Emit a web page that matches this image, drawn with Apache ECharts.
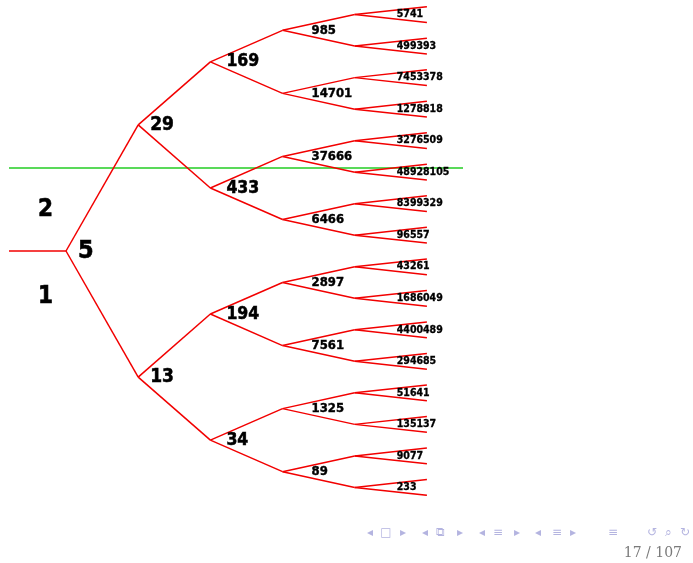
<!DOCTYPE html>
<html>
<head>
<meta charset="utf-8">
<script src="https://cdn.jsdelivr.net/npm/echarts@6/dist/echarts.min.js"></script>
<style>
html,body{margin:0;padding:0;background:#fff;}
#chart{width:693px;height:563px;}
</style>
</head>
<body>
<div id="chart"></div>
<script>
// ---- data ----
const rootValue = [5];
const level1 = [29, 13];
const level2 = [169, 433, 194, 34];
const level3 = [985, 14701, 37666, 6466, 2897, 7561, 1325, 89];
const level4 = [5741, 499393, 7453378, 1278818, 3276509, 48928105, 8399329, 96557,
                43261, 1686049, 4400489, 294685, 51641, 135137, 9077, 233];
const leafCount = 32;
const branchLabels = ['2', '1'];
const thresholdSlot = 10.2;
const pageLabel = '17 / 107';

// ---- build ----
const levels = [rootValue, level1, level2, level3, level4];
const maxDepth = 5;
const xMin = -0.79, xMax = 5.5;
function slot(d, i) { return (i + 0.5) * Math.pow(2, maxDepth - d) - 0.5; }

const edges = [];
edges.push({ coords: [[xMin, slot(0, 0)], [0, slot(0, 0)]] });
for (let d = 0; d < maxDepth; d++) {
  const n = d < levels.length ? levels[d].length : 0;
  for (let i = 0; i < n; i++) {
    for (let c = 0; c < 2; c++) {
      edges.push({ coords: [[d, slot(d, i)], [d + 1, slot(d + 1, 2 * i + c)]] });
    }
  }
}

const fontFamily = "'DejaVu Sans Condensed', 'DejaVu Sans', sans-serif";
const fontSizes = [25, 19, 17.5, 13, 10.5];
const distances = [12, 12, 16, 29, 42];
const borders = [0.6, 0.5, 0.5, 0.4, 0.3];

const labelSeries = levels.map((vals, d) => ({
  type: 'scatter',
  symbolSize: 0,
  silent: true,
  z: 5,
  data: vals.map((v, i) => ({ value: [d, slot(d, i)], name: String(v) })),
  label: {
    show: true,
    position: 'right',
    distance: distances[d],
    formatter: p => p.name,
    fontFamily: fontFamily,
    fontWeight: 'bold',
    fontSize: fontSizes[d],
    color: '#000',
    opacity: 1,
    textBorderColor: '#000',
    textBorderWidth: borders[d]
  }
}));

const sideSeries = {
  type: 'scatter',
  symbolSize: 0,
  silent: true,
  z: 5,
  data: [
    { value: [-0.284, slot(0, 0) - 2.6], name: branchLabels[0] },
    { value: [-0.284, slot(0, 0) + 2.88], name: branchLabels[1] }
  ],
  label: {
    show: true,
    position: [0, 0],
    align: 'center',
    verticalAlign: 'middle',
    formatter: p => p.name,
    fontFamily: fontFamily,
    fontWeight: 'bold',
    fontSize: 24,
    color: '#000',
    opacity: 1,
    textBorderColor: '#000',
    textBorderWidth: 0.6
  }
};

const thresholdSeries = {
  type: 'lines',
  coordinateSystem: 'cartesian2d',
  silent: true,
  z: 2,
  lineStyle: { color: '#22cc22', width: 1.5, opacity: 1 },
  data: [{ coords: [[xMin, thresholdSlot], [xMax, thresholdSlot]] }]
};

const navColor = '#b4b4e0';
const navItems = [
  ['\u25C2', 370], ['\u25A1', 386], ['\u25B8', 403],
  ['\u25C2', 425], ['\u29C9', 440], ['\u25B8', 460],
  ['\u25C2', 482], ['\u2261', 498], ['\u25B8', 517],
  ['\u25C2', 538], ['\u2261', 557], ['\u25B8', 573],
  ['\u2261', 613], ['\u21BA', 652], ['\u2315', 668], ['\u21BB', 685]
];
const graphics = navItems.map(([t, x]) => ({
  type: 'text',
  x: x, y: 533,
  style: { text: t, fill: navColor, font: "12px 'DejaVu Sans'", align: 'center', verticalAlign: 'middle' },
  silent: true
}));
graphics.push({
  type: 'text', x: 682, y: 553,
  style: { text: pageLabel, fill: '#7a7a7a', font: "14px 'DejaVu Serif'", align: 'right', verticalAlign: 'middle' },
  silent: true
});

const chart = echarts.init(document.getElementById('chart'), null, { renderer: 'canvas' });
chart.setOption({
  animation: false,
  backgroundColor: '#fff',
  grid: { left: 9, top: 6.7, width: 454, height: 488.6, containLabel: false },
  xAxis: {
    type: 'value', min: xMin, max: xMax,
    show: false, splitLine: { show: false }
  },
  yAxis: {
    type: 'value', min: 0, max: leafCount - 1, inverse: true,
    show: false, splitLine: { show: false }
  },
  graphic: graphics,
  series: [
    thresholdSeries,
    {
      type: 'lines',
      coordinateSystem: 'cartesian2d',
      silent: true,
      z: 3,
      lineStyle: { color: '#f20000', width: 1.5, opacity: 1 },
      data: edges
    },
    sideSeries
  ].concat(labelSeries)
});
</script>
</body>
</html>
